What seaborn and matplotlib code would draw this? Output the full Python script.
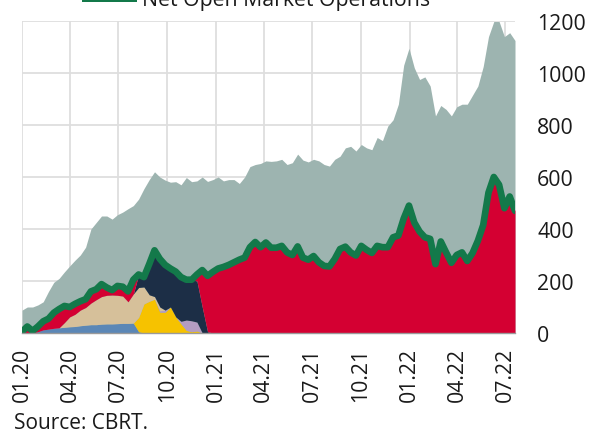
import numpy as np
import pandas as pd
import matplotlib
matplotlib.use("Agg")
import matplotlib.pyplot as plt
import matplotlib.patches as mpatches
import seaborn as sns

# ---- data (bn TL), 10-day steps from 2020-01-01 ----
dates = pd.date_range("2020-01-01", periods=94, freq="10D")

total_funding = [88, 100, 100, 108, 120, 160, 195, 210, 235, 258,
                 280, 300, 330, 400, 425, 450, 450, 438, 455, 465,
                 478, 490, 515, 555, 590, 620, 600, 588, 580, 582,
                 570, 598, 582, 585, 600, 583, 590, 600, 585, 590,
                 590, 575, 600, 640, 648, 652, 662, 660, 662, 668,
                 648, 655, 688, 665, 658, 668, 662, 648, 642, 668,
                 680, 712, 718, 700, 725, 712, 705, 752, 740, 796,
                 820, 880, 1030, 1095, 1020, 975, 985, 950, 835, 875,
                 860, 835, 870, 880, 880, 915, 950, 1025, 1140, 1198,
                 1198, 1140, 1155, 1125]

blue = [0, 0, 0, 5, 12, 15, 18, 20, 22, 24, 25, 28, 30, 32, 32, 34, 35, 35, 36, 37,
        37, 38, 5] + [0] * 71
yellow = [0] * 22 + [55, 112, 122, 130, 80, 80, 100, 62, 35, 10, 5, 8] + [0] * 60
purple = [0] * 26 + [5, 8, 0, 0, 10, 40, 42, 34] + [0] * 60
tan = [0] * 8 + [18, 38, 47, 60, 68, 83, 96, 106, 110, 111, 109, 105, 83, 112,
                 115, 65, 25, 10, 15] + [0] * 67
navy = [0] * 22 + [50, 38, 118, 178, 185, 174, 148, 174, 170, 155, 158, 158, 100, 5] + [0] * 58
red = ([5, 25, 8, 20, 33, 40, 60, 72, 64, 38, 40, 34, 32, 45, 40, 48, 30, 19, 36, 36, 40, 55]
       + [0] * 11 + [25, 142, 215]
       + [235, 248, 254, 262, 272, 282, 290, 330, 350, 330, 348, 328, 328, 335, 310, 300,
          333, 290, 282, 296, 272, 258, 256, 285, 323, 332, 310, 298, 335, 320, 308, 335,
          330, 330, 368, 375, 440, 490, 425, 390, 368, 362, 265, 352, 310, 270, 300, 310,
          277, 308, 355, 415, 540, 600, 570, 480, 525, 470])

tick_dates = pd.to_datetime(["2020-01-01", "2020-04-01", "2020-07-01", "2020-10-01",
                             "2021-01-01", "2021-04-01", "2021-07-01", "2021-10-01",
                             "2022-01-01", "2022-04-01", "2022-07-01"])
tick_labels = ["01.20", "04.20", "07.20", "10.20", "01.21", "04.21", "07.21", "10.21",
               "01.22", "04.22", "07.22"]
y_ticks = [0, 200, 400, 600, 800, 1000, 1200]

legend_label = "Net Open Market Operations"
source_text = "Source: CBRT."

# ---- style ----
sns.set_theme(style="white")
plt.rcParams["font.family"] = ["Open Sans", "DejaVu Sans"]

c_grey = "#9db4b0"
c_blue = "#5b87b6"
c_yellow = "#f6c200"
c_purple = "#b49cc2"
c_tan = "#d6c09a"
c_navy = "#1c2e46"
c_red = "#d40032"
c_green = "#13794a"

fig = plt.figure(figsize=(5.98, 4.35), dpi=100)
ax = fig.add_axes([22 / 598, 1 - 334 / 435, 493 / 598, 312 / 435])

df = pd.DataFrame({"date": dates, "total": total_funding, "blue": blue, "yellow": yellow,
                   "purple": purple, "tan": tan, "navy": navy, "red": red})
df["net"] = df[["blue", "yellow", "purple", "tan", "navy", "red"]].sum(axis=1)

ax.fill_between(df["date"], 0, df["total"], color=c_grey, lw=0, zorder=2)
ax.stackplot(df["date"], df["blue"], df["yellow"], df["purple"], df["tan"], df["navy"], df["red"],
             colors=[c_blue, c_yellow, c_purple, c_tan, c_navy, c_red], lw=0, zorder=3)
sns.lineplot(data=df, x="date", y="net", color=c_green, lw=4.8, ax=ax, zorder=4,
             solid_joinstyle="round", solid_capstyle="round")

ax.set_xlim(dates[0], dates[-1])
ax.set_ylim(0, 1200)
ax.set_xticks(tick_dates)
ax.set_xticklabels(tick_labels, rotation=90, fontsize=15.3, color="#1a1a1a")
ax.set_yticks(y_ticks)
ax.yaxis.tick_right()
ax.set_yticklabels([str(v) for v in y_ticks], fontsize=15.3, color="#1a1a1a")
ax.tick_params(axis="both", length=0)
ax.tick_params(axis="y", pad=16)
ax.tick_params(axis="x", pad=10)
ax.set_xlabel("")
ax.set_ylabel("")

ax.grid(True, color="#dedede", lw=1.3, zorder=0)
ax.set_axisbelow(True)
for s in ["top", "left", "right"]:
    ax.spines[s].set_visible(False)
ax.spines["bottom"].set_color("#9a9a9a")
ax.spines["bottom"].set_linewidth(1)
ax.spines["bottom"].set_zorder(5)

# legend entry (partly cut off at top, as in the source)
fig.patches.append(mpatches.Rectangle((82 / 598, 1 - 3 / 435), 55 / 598, 20 / 435,
                                      transform=fig.transFigure, color=c_green, lw=0))
fig.text(142 / 598, 1 - 6 / 435, legend_label, fontsize=15.3, color="#1a1a1a",
         ha="left", va="baseline")
fig.text(14 / 598, 1 - 429 / 435, source_text, fontsize=15, color="#1a1a1a",
         ha="left", va="baseline")

fig.savefig("out.png", dpi=100)
